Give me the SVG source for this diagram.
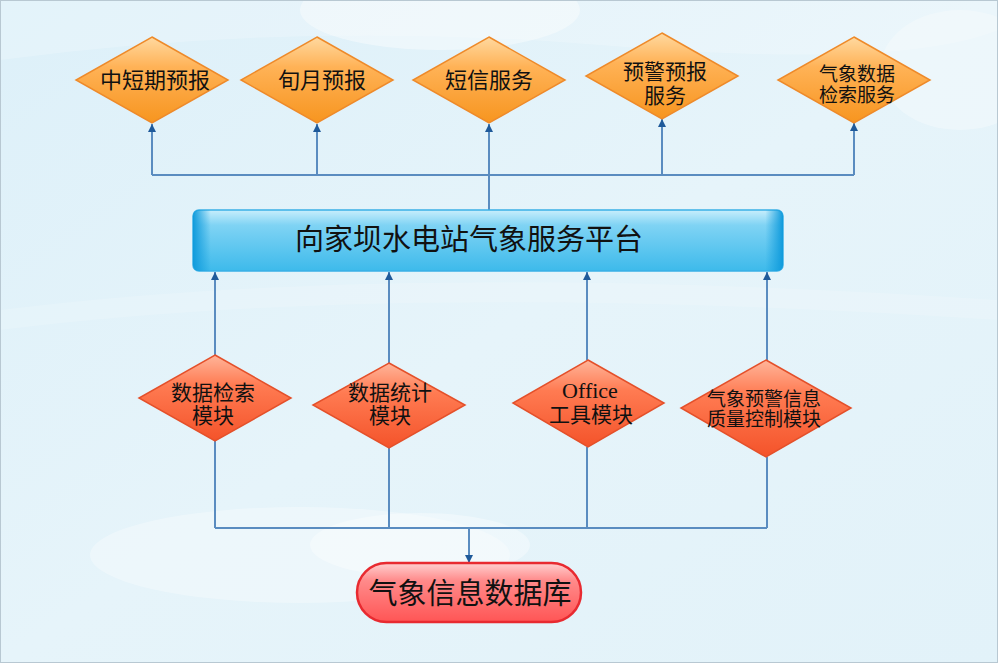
<svg xmlns="http://www.w3.org/2000/svg" width="998" height="663" viewBox="0 0 998 663">
<defs>
<linearGradient id="bg" x1="0" y1="0" x2="1" y2="1">
<stop offset="0" stop-color="#DDF0F9"/><stop offset="0.5" stop-color="#E6F4FA"/><stop offset="1" stop-color="#E2F2F9"/>
</linearGradient>
<linearGradient id="og" x1="0" y1="0" x2="0" y2="1">
<stop offset="0" stop-color="#FFD9A0"/><stop offset="0.35" stop-color="#FFB256"/><stop offset="1" stop-color="#F7951F"/>
</linearGradient>
<linearGradient id="rg" x1="0" y1="0" x2="0" y2="1">
<stop offset="0" stop-color="#FFB59A"/><stop offset="0.35" stop-color="#FF7B52"/><stop offset="1" stop-color="#F4532A"/>
</linearGradient>
<linearGradient id="bar" x1="0" y1="0" x2="0" y2="1">
<stop offset="0" stop-color="#C8EEFC"/><stop offset="0.25" stop-color="#7FD3F4"/><stop offset="1" stop-color="#3DBAEB"/>
</linearGradient>
<linearGradient id="barEdge" x1="0" y1="0" x2="1" y2="0">
<stop offset="0" stop-color="#109BDC"/><stop offset="0.03" stop-color="#109BDC" stop-opacity="0"/><stop offset="0.97" stop-color="#109BDC" stop-opacity="0"/><stop offset="1" stop-color="#109BDC"/>
</linearGradient>
<linearGradient id="pg" x1="0" y1="0" x2="0" y2="1">
<stop offset="0" stop-color="#FFD0D0"/><stop offset="0.3" stop-color="#FF8A8A"/><stop offset="1" stop-color="#FF5555"/>
</linearGradient>
<marker id="ah" viewBox="0 0 10 10" refX="10" refY="5" markerWidth="4" markerHeight="4" orient="auto">
<path d="M0,0 L10,5 L0,10 z" fill="#1F5A9A"/>
</marker>
<style>
.t{font-family:"Liberation Serif","Noto Sans CJK SC",serif;fill:#111;text-anchor:middle}
.o{fill:url(#og);stroke:#EE8A2A;stroke-width:1.5}
.r{fill:url(#rg);stroke:#E4502A;stroke-width:1.5}
.c{fill:none;stroke:#5A8CC0;stroke-width:2}
.a{marker-end:url(#ah)}
</style>
</defs>
<rect width="998" height="663" fill="url(#bg)"/>
<g fill="#FFFFFF">
<ellipse cx="440" cy="10" rx="140" ry="40" opacity="0.4"/>
<ellipse cx="960" cy="70" rx="80" ry="60" opacity="0.3"/>
<ellipse cx="300" cy="555" rx="210" ry="48" opacity="0.3"/>
<ellipse cx="420" cy="545" rx="110" ry="32" opacity="0.35"/>
<path d="M0,60 Q300,20 600,45 T998,30 L998,0 L0,0z" opacity="0.2"/>
<path d="M0,330 Q400,280 998,320 L998,300 Q400,260 0,310z" opacity="0.15"/>
</g>
<rect x="0.5" y="0.5" width="997" height="662" fill="none" stroke="#B8C8D2" stroke-width="1"/>
<g id="connectors">
<path class="c" d="M152,175 H854"/>
<path class="c" d="M489,210 V175"/>
<path class="c a" d="M152,175 V124"/>
<path class="c a" d="M317,175 V124"/>
<path class="c a" d="M489,175 V124"/>
<path class="c a" d="M662,175 V119"/>
<path class="c a" d="M854,175 V123"/>
<path class="c a" d="M215,355 V272"/>
<path class="c a" d="M389,363 V272"/>
<path class="c a" d="M587,360 V272"/>
<path class="c a" d="M767,360 V272"/>
<path class="c" d="M215,441 V528 M389,448 V528 M587,447 V528 M767,457 V528 M215,528 H767"/>
<path class="c a" d="M469,528 V563"/>
</g>
<g id="n1"><path class="o" d="M152,37 L228,80 L152,123 L76,80z"/><text class="t" x="155" y="88" font-size="22">中短期预报</text></g>
<g id="n2"><path class="o" d="M317,37 L393,80 L317,123 L241,80z"/><text class="t" x="322" y="88" font-size="22">旬月预报</text></g>
<g id="n3"><path class="o" d="M489,37 L565,80 L489,123 L413,80z"/><text class="t" x="489" y="88" font-size="22">短信服务</text></g>
<g id="n4"><path class="o" d="M662,33 L738,76 L662,119 L586,76z"/><text class="t" font-size="21"><tspan x="665" y="79">预警预报</tspan><tspan x="665" y="103">服务</tspan></text></g>
<g id="n5"><path class="o" d="M854,37 L930,80 L854,123 L778,80z"/><text class="t" font-size="19"><tspan x="857" y="81">气象数据</tspan><tspan x="857" y="102">检索服务</tspan></text></g>
<g id="platform">
<rect x="193" y="210" width="590" height="61" rx="6" fill="url(#bar)" stroke="#3AB0E6" stroke-width="1.5"/>
<rect x="193" y="210" width="590" height="61" rx="6" fill="url(#barEdge)"/>
<text class="t" x="469" y="250" font-size="29">向家坝水电站气象服务平台</text>
</g>
<g id="m1"><path class="r" d="M215,355 L291,398 L215,441 L139,398z"/><text class="t" font-size="21"><tspan x="213" y="400">数据检索</tspan><tspan x="213" y="423">模块</tspan></text></g>
<g id="m2"><path class="r" d="M389,363 L465,405 L389,448 L313,405z"/><text class="t" font-size="21"><tspan x="390" y="400">数据统计</tspan><tspan x="390" y="423">模块</tspan></text></g>
<g id="m3"><path class="r" d="M588,360 L664,403 L588,447 L513,403z"/><text class="t" font-size="21"><tspan x="590" y="398" font-size="22">Office</tspan><tspan x="591" y="422">工具模块</tspan></text></g>
<g id="m4"><path class="r" d="M766,360 L851,408 L766,457 L681,408z"/><text class="t" font-size="19"><tspan x="764" y="406">气象预警信息</tspan><tspan x="764" y="426">质量控制模块</tspan></text></g>
<g id="db">
<rect x="357" y="563" width="224" height="59" rx="29.5" fill="url(#pg)" stroke="#E82A30" stroke-width="2.5"/>
<text class="t" x="470" y="604" font-size="29">气象信息数据库</text>
</g>
</svg>
